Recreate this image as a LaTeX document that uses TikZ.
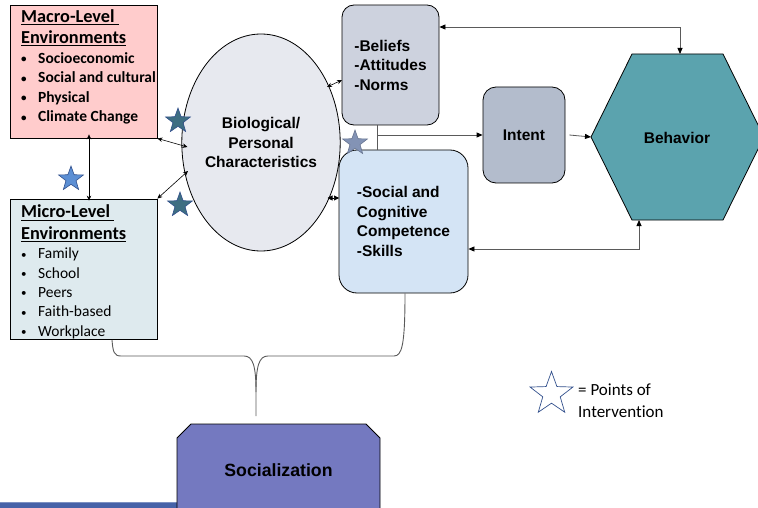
\documentclass[tikz,border=0pt]{standalone}
\usepackage{fontspec}
\setmainfont{Carlito}[Ligatures=NoCommon]
\newfontfamily\arialfont{Liberation Sans}
\usetikzlibrary{shapes.geometric,arrows.meta}

\definecolor{macrofill}{RGB}{255,204,204}
\definecolor{microfill}{RGB}{222,234,238}
\definecolor{biofill}{RGB}{231,233,239}
\definecolor{beliefsfill}{RGB}{205,210,222}
\definecolor{socialfill}{RGB}{212,228,245}
\definecolor{intentfill}{RGB}{179,188,204}
\definecolor{behfill}{RGB}{91,163,174}
\definecolor{socfill}{RGB}{116,121,192}
\definecolor{barfill}{RGB}{70,98,168}
\definecolor{linegray}{RGB}{90,90,90}
\definecolor{starteal}{RGB}{62,110,130}
\definecolor{starblue}{RGB}{92,143,212}
\definecolor{stargray}{RGB}{131,147,181}
\definecolor{staredge}{RGB}{50,80,140}

% underlined heading with a thick rule
\newcommand\headul[1]{\leavevmode\vtop{\hbox{#1}\kern1.6pt\hrule height 1.1pt}}
% small list bullet
\newcommand\itemdot{\makebox[17pt][l]{\raisebox{0.5pt}{\fontsize{11}{11}\selectfont •}}}

\tikzset{
  envbox/.style={draw=black, line width=0.8pt, minimum width=147pt, inner sep=0},
  txt/.style={inner sep=0, anchor=base west},
  headfont/.style={font=\fontsize{18.3}{21}\selectfont\bfseries},
  itemfont/.style={font=\fontsize{15.5}{19}\selectfont},
  shapefont/.style={font=\arialfont\bfseries\fontsize{15.5}{19.5}\selectfont},
  rbox/.style={draw=black, line width=0.8pt, inner sep=0, shapefont, align=left},
  link/.style={draw=linegray, line width=0.8pt},
  biarr/.style={black, line width=0.6pt, {Stealth[length=5pt,width=4.5pt]}-{Stealth[length=5pt,width=4.5pt]}},
  pstar/.style={star, star points=5, star point ratio=2.45, minimum size=26pt, inner sep=0, draw=staredge, line width=0.6pt},
}

\begin{document}
\begin{tikzpicture}[x=1pt,y=-1pt, >={Triangle[length=6pt,width=5pt,color=black]}]
\useasboundingbox (0,0) rectangle (758,508);
\clip (0,0) rectangle (758,508);

% ---------- environment boxes ----------
\node[envbox, fill=macrofill, minimum height=133pt] (macro) at (83.5,71.5) {};
\node[txt, headfont] (macroh1) at (21,22.5) {\headul{Macro-Level\ }};
\node[txt, headfont] (macroh2) at (21,43.5) {\headul{Environments}};
\foreach \t [count=\i] in {Socioeconomic, Social and cultural, Physical, Climate Change}
  \node[txt, font=\fontsize{15.5}{19}\selectfont\bfseries] (macroi\i) at (21,44+19.4*\i) {\itemdot\t};

\node[envbox, fill=microfill, minimum height=140pt] (micro) at (83.5,269) {};
\node[txt, headfont] (microh1) at (21,218) {\headul{Micro-Level\ }};
\node[txt, headfont] (microh2) at (21,239) {\headul{Environments}};
\foreach \t [count=\i] in {Family, School, Peers, Faith-based, Workplace}
  \node[txt, itemfont] (microi\i) at (21,239.5+19.3*\i) {\itemdot\t};

% ---------- central shapes ----------
\node[ellipse, draw=black, line width=0.8pt, fill=biofill, minimum width=146pt, minimum height=217pt,
      inner sep=0, shapefont, align=center] (bio) at (261,142.5)
      {Biological/\\Personal\\Characteristics};

\node[rbox, fill=beliefsfill, rounded corners=12pt, minimum width=97pt, minimum height=120pt]
      (beliefs) at (390.5,65) {-Beliefs\\-Attitudes\\-Norms};

\node[rbox, fill=socialfill, rounded corners=18pt, minimum width=129pt, minimum height=143pt]
      (social) at (403.5,221.5) {-Social and\\Cognitive\\Competence\\-Skills};

\node[rbox, fill=intentfill, rounded corners=13pt, minimum width=82pt, minimum height=96pt]
      (intent) at (524,135) {Intent};

% behaviour hexagon (its right point runs past the edge)
\filldraw[fill=behfill, draw=black, line width=0.8pt]
  (591,137) -- (632,54) -- (723,54) -- (764,137) -- (723,220) -- (632,220) -- cycle;
\node[inner sep=0, shapefont] (behavior) at (677,138) {Behavior};
\coordinate (behtop) at (680,54);
\coordinate (behbot) at (639,220);
\coordinate (behleft) at (591,137);

% socialization block, running past the bottom edge
\fill[barfill] (0,502) rectangle (180,512);
\draw[barfill!70!white, line width=0.6pt] (0,502) -- (177,502);
\filldraw[fill=socfill, draw=black, line width=0.8pt]
  (177,515) -- (177,438) -- (191,424) -- (366,424) -- (380,438) -- (380,515);
\node[inner sep=0, font=\arialfont\bfseries\fontsize{17.7}{20}\selectfont] (socialization) at (278.5,470) {Socialization};

% ---------- connectors ----------
\coordinate (feedtop) at (680,27);
\draw[link, <->] (beliefs.east |- feedtop) -- (feedtop) -- (behtop);
\coordinate (feedbot) at (639,249);
\draw[link, <->] (social.east |- feedbot) -- (feedbot) -- (behbot);

\coordinate (split) at (377,135);
\draw[link] (beliefs.south -| split) -- (social.north -| split);
\draw[link, ->] (split) -- (intent.west |- split);
\draw[link, ->] ([xshift=4pt]intent.east) -- (behleft);

\draw[biarr] (macro.south east) -- (187.5,147);
\draw[biarr] (micro.north east) -- (188,171);
\draw[biarr] ([yshift=4pt]macro.south -| 89,0) -- ([yshift=-2pt]micro.north -| 89,0);
\draw[biarr] (327,87) -- (342,80);
\draw[black, line width=0.6pt, {Triangle[length=5pt,width=5pt]}-{Triangle[length=5pt,width=5pt]}] (327.5,198) -- (339,198);

% brace gathering the micro level and the competence box
\coordinate (bracetip) at (256,416);
\draw[link, line width=0.9pt]
  (112,340) .. controls (113,352) and (114,356) .. (121,356) -- (244,356)
  .. controls (253,356) and (256,366) .. (256,392) -- (bracetip);
\draw[link, line width=0.9pt]
  (social.south -| 405,0) .. controls (405,345) and (402,356) .. (394,356) -- (268,356)
  .. controls (259,356) and (256,366) .. (256,392);

% ---------- intervention stars ----------
\node[pstar, fill=starteal] (star1) at (178,121) {};
\node[pstar, fill=starteal] (star2) at (180,205) {};
\node[pstar, fill=starblue] (star3) at (71,179) {};
\node[pstar, fill=stargray, draw=stargray!80!black] (star4) at (355,143) {};

\node[pstar, minimum size=45pt, draw=staredge, line width=0.7pt, fill=none] (legendstar) at (551.5,394) {};
\node[txt, font=\fontsize{17}{21}\selectfont] (legend1) at (578,395) {= Points of};
\node[txt, font=\fontsize{17}{21}\selectfont] (legend2) at (578,417) {Intervention};
\end{tikzpicture}
\end{document}
